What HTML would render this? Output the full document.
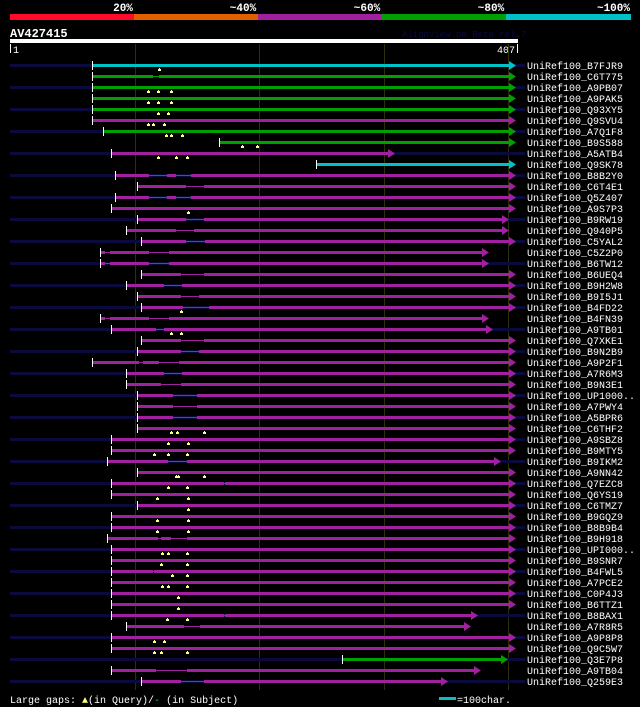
<!DOCTYPE html>
<html><head><meta charset="utf-8"><style>
html,body{margin:0;padding:0;background:#000;}
svg{display:block;}
text{font-family:"Liberation Mono",monospace;}
#rows rect,#grid rect{shape-rendering:crispEdges;}
</style></head><body>
<svg id="chart" width="640" height="707" xmlns="http://www.w3.org/2000/svg">
<rect x="0" y="0" width="640" height="707" fill="#000"/>
<g id="legendbar">
<rect x="10" y="14" width="124" height="6" fill="#ff0a28"/>
<rect x="134" y="14" width="124" height="6" fill="#e06000"/>
<rect x="258" y="14" width="124" height="6" fill="#a020a0"/>
<rect x="382" y="14" width="124" height="6" fill="#00a000"/>
<rect x="506" y="14" width="125" height="6" fill="#00c0c8"/>
<text x="123" y="11" fill="#fff" font-size="11" font-weight="bold" text-anchor="middle">20%</text>
<text x="243" y="11" fill="#fff" font-size="11" font-weight="bold" text-anchor="middle">~40%</text>
<text x="367" y="11" fill="#fff" font-size="11" font-weight="bold" text-anchor="middle">~60%</text>
<text x="491" y="11" fill="#fff" font-size="11" font-weight="bold" text-anchor="middle">~80%</text>
<text x="630" y="11" fill="#fff" font-size="11" font-weight="bold" text-anchor="end">~100%</text>
</g>
<text x="10" y="37" fill="#fff" font-size="12" font-weight="bold">AV427415</text>
<text x="402" y="37" fill="#0a0a40" font-size="9">AlignView.pm Beta rel.7</text>
<rect x="10" y="39" width="508" height="4" fill="#fff"/>
<rect x="10" y="44" width="1" height="9" fill="#fff"/>
<text x="13" y="53" fill="#fff" font-size="10">1</text>
<text x="515" y="53" fill="#fff" font-size="10" text-anchor="end">407</text>
<rect x="517" y="44" width="1" height="9" fill="#fff"/>
<g id="grid"></g>
<g id="rows"></g>
<text x="10" y="703" fill="#fff" font-size="10">Large gaps: <tspan fill="#ffff80">▲</tspan>(in Query)/<tspan fill="#00c0c8">-</tspan> (in Subject)</text>
<rect x="439" y="697" width="17" height="3" fill="#00c0c8"/>
<text x="457" y="703" fill="#fff" font-size="10">=100char.</text>
</svg>
<script>
const names = ["B7FJR9","C6T775","A9PB07","A9PAK5","Q93XY5","Q9SVU4","A7Q1F8","B9S588","A5ATB4","Q9SK78","B8B2Y0","C6T4E1","Q5Z407","A9S7P3","B9RW19","Q940P5","C5YAL2","C5Z2P0","B6TW12","B6UEQ4","B9H2W8","B9I5J1","B4FD22","B4FN39","A9TB01","Q7XKE1","B9N2B9","A9P2F1","A7R6M3","B9N3E1","UP1000..","A7PWY4","A5BPR6","C6THF2","A9SBZ8","B9MTY5","B9IKM2","A9NN42","Q7EZC8","Q6YS19","C6TMZ7","B9GQZ9","B8B9B4","B9H918","UPI000..","B9SNR7","B4FWL5","A7PCE2","C0P4J3","B6TTZ1","B8BAX1","A7R8R5","A9P8P8","Q9C5W7","Q3E7P8","A9TB04","Q259E3"];
const identityClass = ["c","g","g","g","g","p","g","g","p","c","p","p","p","p","p","p","p","p","p","p","p","p","p","p","p","p","p","p","p","p","p","p","p","p","p","p","p","p","p","p","p","p","p","p","p","p","p","p","p","p","p","p","p","p","g","p","p"];
const starts = [66,66,66,66,66,66,75,168,81,246,84,102,84,81,102,93,105,72,72,105,93,102,105,72,81,105,102,66,93,93,102,102,102,102,81,81,78,102,81,81,102,81,81,78,81,81,81,81,81,81,81,93,81,81,267,81,105];
const ends = [401,401,401,401,401,401,401,401,304,401,401,401,401,401,395,395,401,379,379,401,401,401,401,379,382,401,401,401,401,401,401,401,401,401,401,401,389,401,401,401,401,401,401,401,401,401,401,401,401,401,370,365,401,401,394,373,346];
const gaps = [[],[[115,120]],[],[],[],[],[],[],[],[],[[112,126],[133,145]],[[141,156]],[[112,126],[133,145]],[],[[141,156]],[[133,148]],[[141,157]],[[76,80],[112,128]],[[76,80],[112,128]],[[137,156]],[[124,138]],[[137,152]],[[139,160]],[[76,80],[112,128]],[[117,124]],[[137,156]],[[137,152]],[[104,107],[120,136]],[[124,138]],[[121,137]],[[131,150]],[[131,150]],[[131,150]],[],[],[],[[127,142]],[],[[172,173]],[],[],[],[],[[119,121],[129,142]],[],[],[[115,116]],[],[],[],[[172,173]],[[140,153]],[],[],[],[[117,142]],[[137,156]]];
const queryGaps = [[120],[],[111,119,129],[111,119,129],[119,127],[111,115,124],[125,129,138],[186,198],[119,133,142],[],[],[],[],[143],[],[],[],[],[],[],[],[],[137],[],[129,137],[],[],[],[],[],[],[],[],[129,134,156],[127,143],[116,127,142],[],[133,135,156],[127,142],[118,143],[143],[118,143],[118,143],[],[122,127,142],[121,142],[130,142],[122,127,142],[135],[135],[126,142],[],[116,124],[116,121,142],[],[],[]];
const gridTicks = [100,200,300,400];

const NS = "http://www.w3.org/2000/svg";
const colors = {c:"#00c0c8", g:"#00a000", p:"#a020a0"};
const xScale = c => Math.round(10 + c * 1.245);
const yRow = i => 65 + i * 11;
function mk(tag, attrs, parent){ const e=document.createElementNS(NS,tag); for(const k in attrs) e.setAttribute(k,attrs[k]); parent.appendChild(e); return e; }
const grid = document.getElementById('grid');
const rows = document.getElementById('rows');
gridTicks.forEach(t=>{
  const l = mk('rect',{x:xScale(t),y:44,width:1,height:646,fill:"#2e2e08"},grid);
  
  
});
names.forEach((n,i)=>{
  const y = yRow(i);
  const g = mk('g',{},rows);
  
  
  const col = colors[identityClass[i]];
  if(i%2===0){
    const s = mk('rect',{x:10,y:y-1,width:515,height:3,fill:"#0a0a3c"},g);
    
    
  }
  const x0 = xScale(starts[i]), x1 = xScale(ends[i]);
  let segs=[]; let cur=x0;
  gaps[i].forEach(gp=>{ segs.push([cur,xScale(gp[0])]); const gl=mk('rect',{x:xScale(gp[0]),y:y,width:xScale(gp[1])-xScale(gp[0]),height:1,fill:col},g);
    
    
    cur=xScale(gp[1]); });
  segs.push([cur,x1]);
  segs.forEach(s=>{ const r=mk('rect',{x:s[0],y:y-1,width:Math.max(0,s[1]-s[0]),height:3,fill:col},g);
    
     });
  const a = mk('polygon',{points:`${x1},${y-4} ${x1+7},${y+0.5} ${x1},${y+5}`,fill:col},g);
  
  
  const t = mk('rect',{x:x0,y:y-4,width:1,height:9,fill:"#fff"},g);
  
  
  queryGaps[i].forEach(q=>{ const qx=xScale(q)+0.5;
    const m=mk('polygon',{points:`${qx-0.5},${y+3} ${qx+0.5},${y+3} ${qx+0.5},${y+4} ${qx+1.5},${y+4} ${qx+1.5},${y+6} ${qx-1.5},${y+6} ${qx-1.5},${y+4} ${qx-0.5},${y+4}`,fill:"#ffff80"},g);
    
     });
  const lb = mk('text',{x:527,y:y+4,fill:"#fff","font-size":10},g);
  lb.textContent = "UniRef100_"+n;
  
  
});
</script>
</body></html>
